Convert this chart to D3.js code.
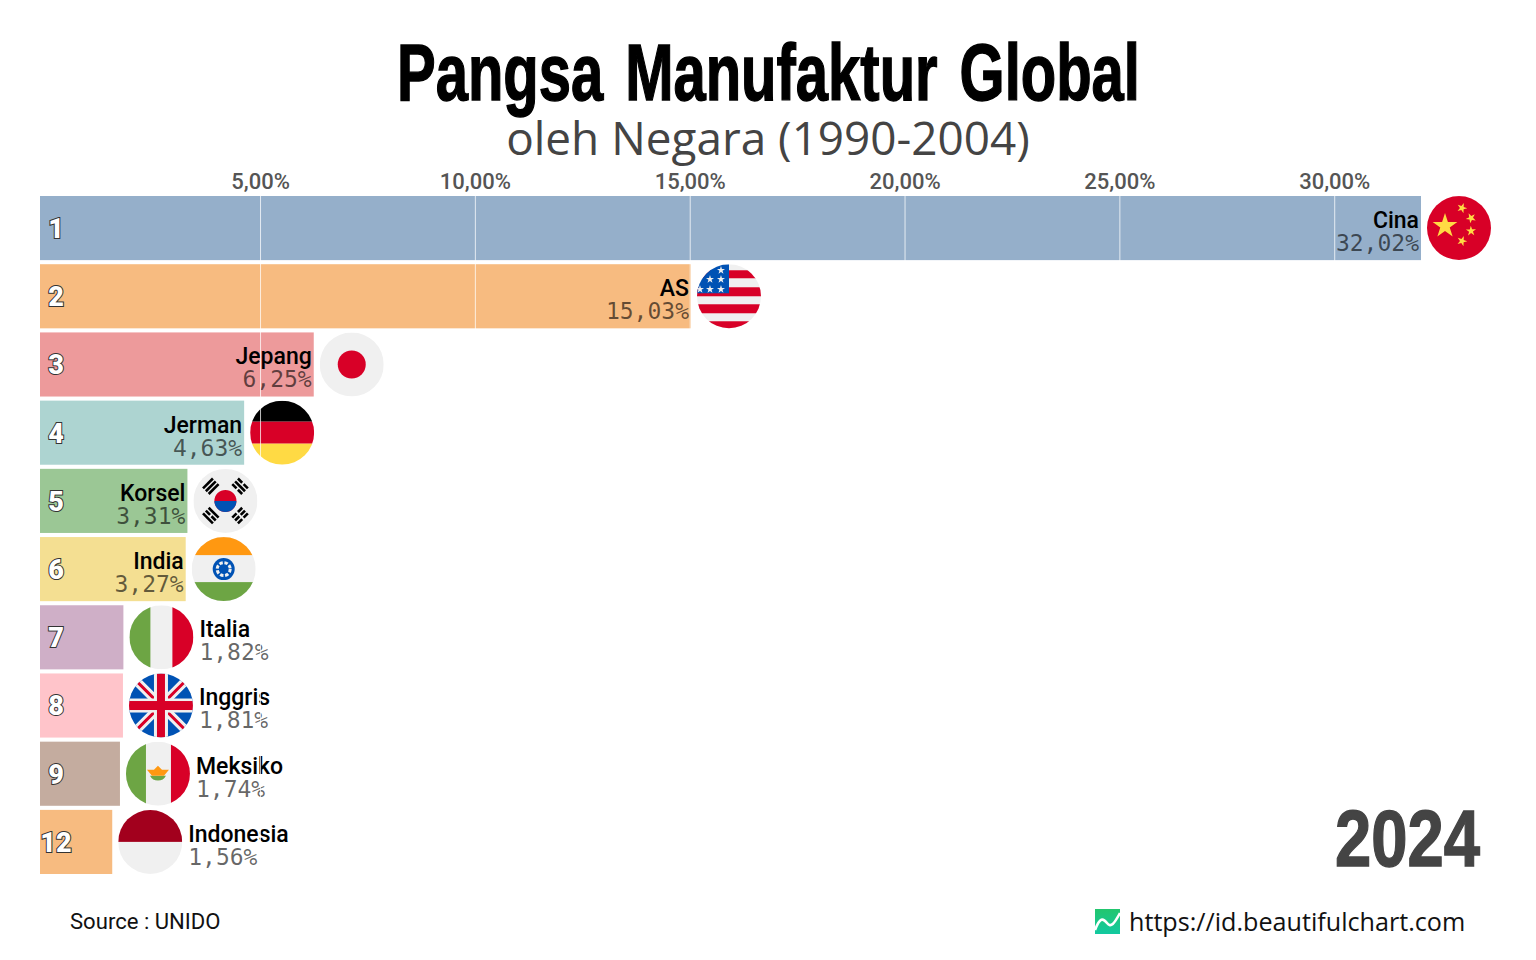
<!DOCTYPE html>
<html>
<head>
<meta charset="utf-8">
<style>
  html, body { margin: 0; padding: 0; background: #fff; }
  svg { display: block; }
  text { font-family: Roboto, sans-serif; }
</style>
</head>
<body>
<svg id="chart" width="1536" height="960"></svg>
<script src="https://cdn.jsdelivr.net/npm/d3@7"></script>
<script>
// data
var ranks = [1, 2, 3, 4, 5, 6, 7, 8, 9, 12];
var countries = ["Cina", "AS", "Jepang", "Jerman", "Korsel", "India", "Italia", "Inggris", "Meksiko", "Indonesia"];
var shares = [32.02, 15.03, 6.25, 4.63, 3.31, 3.27, 1.82, 1.81, 1.74, 1.56];
var flags = ["cn", "us", "jp", "de", "kr", "in", "it", "gb", "mx", "id"];
var tickValues = [5, 10, 15, 20, 25, 30];
var year = "2024";

var RED = "#D80027", WHITE = "#F0F0F0", BLUE = "#0052B4", GREEN = "#6DA544", YELLOW = "#FFDA44", ORANGE = "#FF9811";

var svg = d3.select("#chart");
var fmt = function(v) { return v.toFixed(2).replace(".", ",") + "%"; };

var x = d3.scaleLinear().domain([0, 32.02]).range([45.2, 1421]);
var y = d3.scaleBand().domain(d3.range(ranks.length)).range([196, 874]).paddingInner(0.06).paddingOuter(0).align(0);
var color = function(rank) { return d3.schemeTableau10[(rank - 1) % 10]; };

// squeeze a heavy font into the width the condensed original takes
var squeezed = function(text, left, baseline, width, size, fill) {
  var t = svg.append("text")
    .style("font-family", "'Liberation Sans', Arial, sans-serif")
    .style("font-weight", 700).style("font-size", size + "px")
    .style("word-spacing", "8px")
    .attr("fill", fill).attr("stroke", fill).attr("stroke-width", 1.4)
    .text(text);
  var natural = t.node().getComputedTextLength();
  t.attr("transform", "translate(" + left + "," + baseline + ") scale(" + (width / natural) + ",1)");
  return t;
};

// titles
squeezed("Pangsa Manufaktur Global", 397, 100, 743, 80, "#000");
svg.append("text").attr("x", 768).attr("y", 155)
  .attr("text-anchor", "middle")
  .style("font-family", "'Open Sans', sans-serif").style("font-size", "45.9px").attr("fill", "#444")
  .text("oleh Negara (1990-2004)");

// bars
var rows = d3.range(ranks.length).map(function(i) {
  return { i: i, rank: ranks[i], name: countries[i], value: shares[i], flag: flags[i] };
});

var row = svg.append("g").selectAll("g").data(rows).enter().append("g")
  .attr("transform", function(d) { return "translate(0," + y(d.i) + ")"; });

row.append("rect")
  .attr("x", 40).attr("y", 0)
  .attr("width", function(d) { return x(d.value) - 40; })
  .attr("height", y.bandwidth())
  .attr("fill", function(d) { return color(d.rank); })
  .attr("fill-opacity", 0.6);

// flags, drawn in a 64px circle around 0,0
var star = function(g, cx, cy, size, rot, fill) {
  g.append("path").attr("d", d3.symbol(d3.symbolStar).size(size))
    .attr("transform", "translate(" + cx + "," + cy + ") rotate(" + rot + ")")
    .attr("fill", fill || YELLOW);
};
var box = function(g, x0, y0, w, h, fill) {
  g.append("rect").attr("x", x0).attr("y", y0).attr("width", w).attr("height", h).attr("fill", fill);
};
var trigram = function(g, angle, pattern) {
  var t = g.append("g").attr("transform", "rotate(" + angle + ") translate(0,-21)");
  pattern.forEach(function(broken, k) {
    var yy = -5 + k * 4;
    if (broken) {
      box(t, -7, yy, 6, 2.6, "#000");
      box(t, 1, yy, 6, 2.6, "#000");
    } else {
      box(t, -7, yy, 14, 2.6, "#000");
    }
  });
};

var drawFlag = {
  cn: function(g) {
    box(g, -32, -32, 64, 64, RED);
    star(g, -14, -2, 190, 0);
    star(g, 3, -20, 32, 20);
    star(g, 12, -10, 32, 45);
    star(g, 12, 3, 32, 70);
    star(g, 3, 13, 32, 20);
  },
  us: function(g) {
    box(g, -32, -32, 64, 64, WHITE);
    [[-26, 8], [-9, 9], [8, 9], [25, 8]].forEach(function(s) { box(g, -32, s[0], 64, s[1], RED); });
    box(g, -32, -32, 32, 29, BLUE);
    [[-8, -26], [-19, -17], [-8, -17], [-29, -7], [-19, -7], [-8, -7]].forEach(function(p) {
      star(g, p[0], p[1], 20, 0, WHITE);
    });
  },
  jp: function(g) {
    box(g, -32, -32, 64, 64, WHITE);
    g.append("circle").attr("r", 14).attr("fill", RED);
  },
  de: function(g) {
    box(g, -32, -32, 64, 21, "#000");
    box(g, -32, -11, 64, 22, RED);
    box(g, -32, 11, 64, 21, YELLOW);
  },
  kr: function(g) {
    box(g, -32, -32, 64, 64, WHITE);
    g.append("circle").attr("r", 11).attr("fill", RED);
    g.append("path").attr("d", "M-11,0 A11,11 0 0 0 11,0 Z").attr("fill", BLUE);
    trigram(g, -45, [0, 0, 0]);
    trigram(g, 45, [1, 0, 1]);
    trigram(g, 135, [1, 1, 1]);
    trigram(g, 225, [0, 1, 0]);
  },
  "in": function(g) {
    box(g, -32, -32, 64, 64, WHITE);
    box(g, -32, -32, 64, 18, ORANGE);
    box(g, -32, 13, 64, 19, GREEN);
    g.append("circle").attr("r", 11).attr("fill", BLUE);
    g.append("circle").attr("r", 6.5).attr("fill", "none")
      .attr("stroke", WHITE).attr("stroke-width", 3).attr("stroke-dasharray", "3.4 1.7");
    g.append("circle").attr("r", 3).attr("fill", BLUE);
  },
  it: function(g) {
    box(g, -32, -32, 64, 64, WHITE);
    box(g, -32, -32, 21, 64, GREEN);
    box(g, 11, -32, 21, 64, RED);
  },
  gb: function(g) {
    box(g, -32, -32, 64, 64, BLUE);
    g.append("path").attr("d", "M-32,-32 L32,32 M32,-32 L-32,32").attr("stroke", WHITE).attr("stroke-width", 9);
    g.append("path").attr("d", "M-32,-32 L32,32 M32,-32 L-32,32").attr("stroke", RED).attr("stroke-width", 3);
    box(g, -7, -32, 14, 64, WHITE);
    box(g, -32, -7, 64, 14, WHITE);
    box(g, -4, -32, 8, 64, RED);
    box(g, -32, -4.5, 64, 9, RED);
  },
  mx: function(g) {
    box(g, -32, -32, 64, 64, WHITE);
    box(g, -32, -32, 20, 64, GREEN);
    box(g, 13, -32, 19, 64, RED);
    g.append("path").attr("d", "M-8,2 A9,9 0 0 0 8,2 Z").attr("fill", GREEN);
    g.append("path").attr("d", "M-11,-4 L-4,-4 L0,-8 L4,-4 L11,-4 L6,2 L-6,2 Z").attr("fill", ORANGE);
  },
  id: function(g) {
    box(g, -32, -32, 64, 32, "#A2001D");
    box(g, -32, 0, 64, 32, WHITE);
  }
};

var defs = svg.append("defs");
defs.append("clipPath").attr("id", "flagClip").append("circle").attr("r", 32);

row.append("g")
  .attr("transform", function(d) { return "translate(" + (x(d.value) + 38) + "," + (y.bandwidth() / 2) + ")"; })
  .append("g").attr("clip-path", "url(#flagClip)")
  .each(function(d) { drawFlag[d.flag](d3.select(this)); });

// rank number
row.append("text")
  .attr("x", 56).attr("y", 42)
  .attr("text-anchor", "middle")
  .style("font-family", "Roboto, sans-serif").style("font-weight", 900).style("font-size", "27px")
  .attr("fill", "#fff").attr("stroke", "#333").attr("stroke-width", 2)
  .style("paint-order", "stroke")
  .text(function(d) { return d.rank; });

// label goes inside the bar when there is room, otherwise right of the flag
var inside = function(d) { return d.value >= 3; };
var labelX = function(d) { return inside(d) ? x(d.value) - 2 : x(d.value) + 76; };

row.append("text")
  .attr("x", labelX).attr("y", 32)
  .attr("text-anchor", function(d) { return inside(d) ? "end" : "start"; })
  .style("font-family", "Roboto, sans-serif").style("font-weight", 500).style("font-size", "23px")
  .attr("fill", "#000")
  .text(function(d) { return d.name; });

row.append("text")
  .attr("x", labelX).attr("y", 55)
  .attr("text-anchor", function(d) { return inside(d) ? "end" : "start"; })
  .style("font-family", "'DejaVu Sans Mono', monospace").style("font-size", "23px")
  .attr("fill", "#000").attr("fill-opacity", 0.6)
  .text(function(d) { return fmt(d.value); });

// axis on top of the marks, gridlines are white
var axis = d3.axisTop(x).tickValues(tickValues).tickFormat(fmt)
  .tickSizeInner(-(y(ranks.length - 1) + y.bandwidth() - 196)).tickSizeOuter(0).tickPadding(7);
var axisG = svg.append("g").attr("transform", "translate(0,196)").call(axis);
axisG.select(".domain").remove();
axisG.selectAll(".tick line").attr("stroke", "#fff").attr("stroke-opacity", 0.75).attr("stroke-width", 1);
axisG.selectAll(".tick text")
  .style("font-family", "Roboto, sans-serif").style("font-weight", 500).style("font-size", "22px")
  .attr("fill", "#555");

// year
squeezed(year, 1335, 866, 145, 80, "#444");

// footer
svg.append("text").attr("x", 70).attr("y", 929)
  .style("font-family", "Roboto, sans-serif").style("font-size", "22.1px").attr("fill", "#111")
  .text("Source : UNIDO");

var grad = defs.append("linearGradient").attr("id", "logoGrad")
  .attr("x1", 0).attr("y1", 0).attr("x2", 0).attr("y2", 1);
grad.append("stop").attr("offset", 0).attr("stop-color", "#22C66E");
grad.append("stop").attr("offset", 1).attr("stop-color", "#12C9A0");

var logo = svg.append("g").attr("transform", "translate(1095,909)");
logo.append("rect").attr("width", 25).attr("height", 25).attr("fill", "url(#logoGrad)");
logo.append("path").attr("d", "M0,21 C5,8 8,9 12,14 C16,19 19,15 25,4")
  .attr("fill", "none").attr("stroke", "#fff").attr("stroke-width", 2.6);

svg.append("text").attr("x", 1129).attr("y", 931)
  .style("font-family", "'Open Sans', sans-serif").style("font-size", "25.15px").attr("fill", "#111")
  .text("https://id.beautifulchart.com");
</script>
</body>
</html>
